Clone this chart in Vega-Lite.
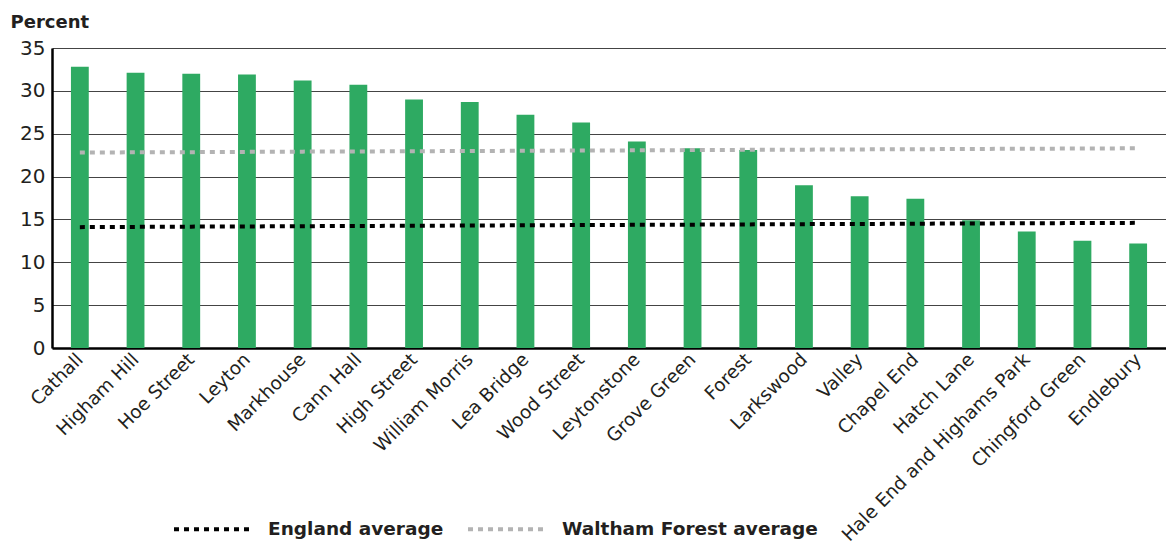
{
  "$schema": "https://vega.github.io/schema/vega-lite/v6.json",
  "width": 1114,
  "height": 300,
  "autosize": {"type": "none"},
  "padding": {"left": 52, "top": 48, "right": 0, "bottom": 194},
  "background": "white",
  "config": {
    "view": {"stroke": null},
    "font": "DejaVu Sans",
    "axis": {"labelFont": "DejaVu Sans", "titleFont": "DejaVu Sans"},
    "legend": {"labelFont": "DejaVu Sans"}
  },
  "datasets": {
    "bars": [
      {"ward": "Cathall", "value": 32.8},
      {"ward": "Higham Hill", "value": 32.1},
      {"ward": "Hoe Street", "value": 32.0},
      {"ward": "Leyton", "value": 31.9},
      {"ward": "Markhouse", "value": 31.2},
      {"ward": "Cann Hall", "value": 30.7},
      {"ward": "High Street", "value": 29.0},
      {"ward": "William Morris", "value": 28.7},
      {"ward": "Lea Bridge", "value": 27.2},
      {"ward": "Wood Street", "value": 26.3},
      {"ward": "Leytonstone", "value": 24.1},
      {"ward": "Grove Green", "value": 23.3},
      {"ward": "Forest", "value": 23.1},
      {"ward": "Larkswood", "value": 19.0},
      {"ward": "Valley", "value": 17.7},
      {"ward": "Chapel End", "value": 17.4},
      {"ward": "Hatch Lane", "value": 14.9},
      {"ward": "Hale End and Highams Park", "value": 13.6},
      {"ward": "Chingford Green", "value": 12.5},
      {"ward": "Endlebury", "value": 12.2}
    ],
    "lines": [
      {"ward": "Cathall", "series": "England average", "value": 14.1},
      {"ward": "Higham Hill", "series": "England average", "value": 14.13},
      {"ward": "Hoe Street", "series": "England average", "value": 14.16},
      {"ward": "Leyton", "series": "England average", "value": 14.18},
      {"ward": "Markhouse", "series": "England average", "value": 14.21},
      {"ward": "Cann Hall", "series": "England average", "value": 14.24},
      {"ward": "High Street", "series": "England average", "value": 14.26},
      {"ward": "William Morris", "series": "England average", "value": 14.29},
      {"ward": "Lea Bridge", "series": "England average", "value": 14.32},
      {"ward": "Wood Street", "series": "England average", "value": 14.34},
      {"ward": "Leytonstone", "series": "England average", "value": 14.37},
      {"ward": "Grove Green", "series": "England average", "value": 14.39},
      {"ward": "Forest", "series": "England average", "value": 14.42},
      {"ward": "Larkswood", "series": "England average", "value": 14.45},
      {"ward": "Valley", "series": "England average", "value": 14.47},
      {"ward": "Chapel End", "series": "England average", "value": 14.5},
      {"ward": "Hatch Lane", "series": "England average", "value": 14.53},
      {"ward": "Hale End and Highams Park", "series": "England average", "value": 14.55},
      {"ward": "Chingford Green", "series": "England average", "value": 14.58},
      {"ward": "Endlebury", "series": "England average", "value": 14.6},
      {"ward": "Cathall", "series": "Waltham Forest average", "value": 22.8},
      {"ward": "Higham Hill", "series": "Waltham Forest average", "value": 22.83},
      {"ward": "Hoe Street", "series": "Waltham Forest average", "value": 22.85},
      {"ward": "Leyton", "series": "Waltham Forest average", "value": 22.88},
      {"ward": "Markhouse", "series": "Waltham Forest average", "value": 22.91},
      {"ward": "Cann Hall", "series": "Waltham Forest average", "value": 22.93},
      {"ward": "High Street", "series": "Waltham Forest average", "value": 22.96},
      {"ward": "William Morris", "series": "Waltham Forest average", "value": 22.98},
      {"ward": "Lea Bridge", "series": "Waltham Forest average", "value": 23.01},
      {"ward": "Wood Street", "series": "Waltham Forest average", "value": 23.04},
      {"ward": "Leytonstone", "series": "Waltham Forest average", "value": 23.06},
      {"ward": "Grove Green", "series": "Waltham Forest average", "value": 23.09},
      {"ward": "Forest", "series": "Waltham Forest average", "value": 23.12},
      {"ward": "Larkswood", "series": "Waltham Forest average", "value": 23.14},
      {"ward": "Valley", "series": "Waltham Forest average", "value": 23.17},
      {"ward": "Chapel End", "series": "Waltham Forest average", "value": 23.19},
      {"ward": "Hatch Lane", "series": "Waltham Forest average", "value": 23.22},
      {"ward": "Hale End and Highams Park", "series": "Waltham Forest average", "value": 23.25},
      {"ward": "Chingford Green", "series": "Waltham Forest average", "value": 23.27},
      {"ward": "Endlebury", "series": "Waltham Forest average", "value": 23.3}
    ]
  },
  "encoding": {
    "x": {
      "field": "ward",
      "type": "nominal",
      "sort": null,
      "scale": {"paddingInner": 0.68, "paddingOuter": 0.34},
      "axis": {
        "title": null,
        "labelAngle": -45,
        "labelAlign": "right",
        "labelBaseline": "middle",
        "labelFontSize": 18.5,
        "labelColor": "#231f20",
        "labelPadding": 8,
        "ticks": false,
        "domainColor": "#000000",
        "domainWidth": 2.5,
        "labelLimit": 400
      }
    }
  },
  "layer": [
    {
      "data": {"name": "bars"},
      "mark": {"type": "bar", "color": "#2eaa62"},
      "encoding": {
        "y": {
          "field": "value",
          "type": "quantitative",
          "scale": {"domain": [0, 35], "nice": false},
          "axis": {
            "values": [0, 5, 10, 15, 20, 25, 30, 35],
            "title": "Percent",
            "titleAngle": 0,
            "titleAlign": "left",
            "titleBaseline": "alphabetic",
            "titleX": -42,
            "titleY": -21,
            "titleFontSize": 18,
            "titleFontWeight": "bold",
            "titleColor": "#231f20",
            "labelFontSize": 20,
            "labelColor": "#231f20",
            "labelPadding": 7,
            "ticks": false,
            "grid": true,
            "gridColor": "#444444",
            "gridWidth": 1.2,
            "domainColor": "#000000",
            "domainWidth": 2.5
          }
        }
      }
    },
    {
      "data": {"name": "lines"},
      "mark": {"type": "line", "strokeWidth": 4, "strokeDash": [5, 5]},
      "encoding": {
        "y": {"field": "value", "type": "quantitative"},
        "color": {
          "field": "series",
          "type": "nominal",
          "scale": {"domain": ["England average", "Waltham Forest average"], "range": ["#000000", "#b3b3b3"]},
          "legend": {
            "title": null,
            "orient": "none",
            "direction": "horizontal",
            "legendX": 120,
            "legendY": 439,
            "symbolType": "stroke",
            "symbolSize": 6400,
            "symbolStrokeWidth": 4,
            "symbolDash": [5, 5],
            "labelFontSize": 18.5,
            "labelFontWeight": "bold",
            "labelColor": "#231f20",
            "labelOffset": 12,
            "columnPadding": 16,
            "labelLimit": 400
          }
        }
      }
    }
  ]
}
